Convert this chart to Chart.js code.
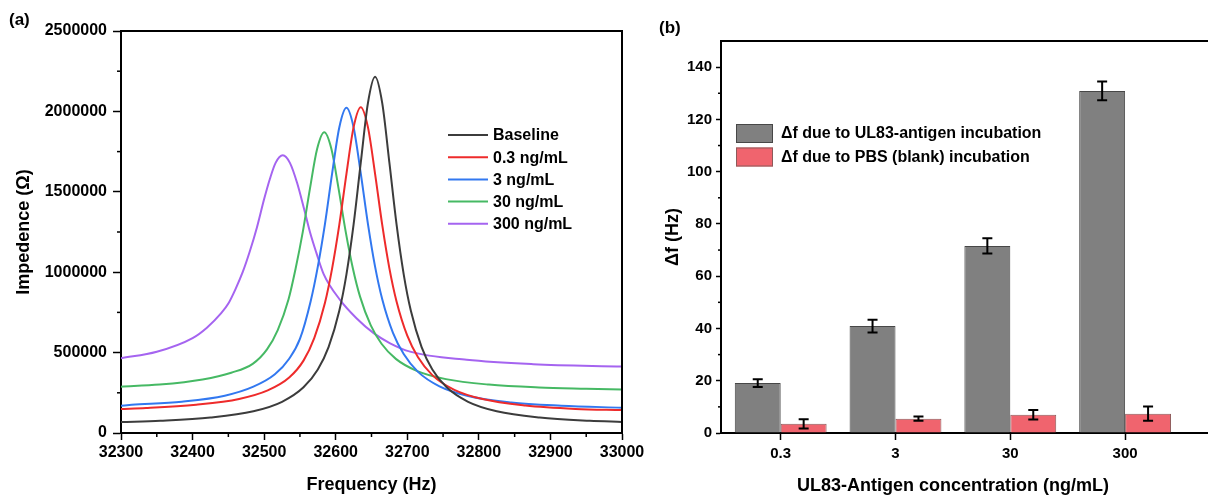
<!DOCTYPE html>
<html><head><meta charset="utf-8">
<script src="https://cdn.jsdelivr.net/npm/chart.js@4"></script>
<style>
html,body{margin:0;padding:0;background:#fff;overflow:hidden;width:1208px;height:496px;}
.panel{position:absolute;top:0;height:496px;}
#pa{left:0;width:650px;}
#pb{left:650px;width:558px;}
.lab{position:absolute;font:bold 17px 'Liberation Sans',Arial,sans-serif;color:#000;}
</style></head><body>
<div class="panel" id="pa"><canvas id="ca" width="650" height="496"></canvas></div>
<div class="panel" id="pb"><canvas id="cb" width="558" height="496"></canvas></div>
<div class="lab" style="left:9px;top:10px">(a)</div>
<div class="lab" style="left:659px;top:18px">(b)</div>
<script>
// ---------- Panel (a) data ----------
const seriesLabels = ['Baseline', '0.3 ng/mL', '3 ng/mL', '30 ng/mL', '300 ng/mL'];
const freqBaseline = [32300, 32355, 32425, 32485, 32525, 32555, 32575, 32590, 32605, 32615, 32625, 32635, 32645, 32655, 32665, 32675, 32685, 32695, 32705, 32720, 32735, 32755, 32785, 32825, 32885, 32955, 33000];
const zBaseline = [68000, 76000, 96000, 135000, 194000, 284000, 395000, 534000, 760000, 987000, 1297000, 1681000, 2051000, 2215000, 2051000, 1681000, 1297000, 987000, 760000, 534000, 395000, 284000, 194000, 135000, 96000, 76000, 69000];
const freq03 = [32300, 32335, 32405, 32465, 32505, 32535, 32555, 32570, 32585, 32595, 32605, 32615, 32625, 32635, 32645, 32655, 32665, 32675, 32685, 32700, 32715, 32735, 32765, 32805, 32865, 32935, 33000];
const z03 = [149000, 155000, 176000, 212000, 265000, 345000, 450000, 590000, 810000, 1024000, 1294000, 1612000, 1902000, 2026000, 1902000, 1612000, 1294000, 1024000, 818000, 605000, 471000, 360000, 270000, 211000, 171000, 150000, 143000];
const freq3 = [32300, 32315, 32385, 32445, 32485, 32515, 32535, 32550, 32565, 32575, 32585, 32595, 32605, 32615, 32625, 32635, 32645, 32655, 32665, 32680, 32695, 32715, 32745, 32785, 32845, 32915, 33000];
const z3 = [170000, 175000, 195000, 232000, 288000, 365000, 462000, 585000, 820000, 1035000, 1301000, 1615000, 1900000, 2022000, 1900000, 1615000, 1301000, 1035000, 832000, 623000, 491000, 380000, 290000, 230000, 190000, 170000, 157000];
const freq30 = [32300, 32354, 32414, 32454, 32484, 32504, 32519, 32534, 32544, 32554, 32564, 32574, 32584, 32594, 32604, 32614, 32624, 32634, 32649, 32664, 32684, 32714, 32754, 32814, 32884, 32950, 33000];
const z30 = [288000, 301000, 333000, 375000, 430000, 520000, 640000, 830000, 1023000, 1251000, 1520000, 1766000, 1870000, 1766000, 1520000, 1251000, 1023000, 848000, 669000, 555000, 461000, 385000, 335000, 301000, 283000, 275000, 270000];
const freq300 = [32300, 32350, 32400, 32420, 32440, 32450, 32460, 32470, 32480, 32490, 32500, 32508, 32516, 32526, 32536, 32546, 32556, 32564, 32573, 32583, 32606, 32629, 32653, 32676, 32704, 32783, 32876, 33000];
const z300 = [465000, 505000, 590000, 655000, 745000, 805000, 895000, 1000000, 1130000, 1280000, 1455000, 1580000, 1680000, 1727000, 1680000, 1556000, 1390000, 1250000, 1120000, 990000, 828000, 714000, 621000, 558000, 506000, 455000, 428000, 413000];
const lineColors = ['#3c3c3c', '#ee2b2b', '#3278f0', '#46b964', '#a564f0'];
const xTicksA = [32300, 32400, 32500, 32600, 32700, 32800, 32900, 33000];
const xMinorA = [32350, 32450, 32550, 32650, 32750, 32850, 32950];
const yTicksA = [0, 500000, 1000000, 1500000, 2000000, 2500000];
const yMinorA = [250000, 750000, 1250000, 1750000, 2250000];

// ---------- Panel (b) data ----------
const concLabels = ['0.3', '3', '30', '300'];
const antigenShift = [19.1, 40.9, 71.6, 130.9];
const antigenErr = [1.5, 2.4, 2.9, 3.6];
const blankShift = [3.5, 5.5, 7.0, 7.4];
const blankErr = [1.8, 0.8, 1.8, 2.7];
const barLabels = ['\u0394f due to UL83-antigen incubation', '\u0394f due to PBS (blank) incubation'];
const yTicksB = [0, 20, 40, 60, 80, 100, 120, 140];
const yMinorB = [10, 30, 50, 70, 90, 110, 130];

const FONT = "'Liberation Sans', Arial, sans-serif";
Chart.defaults.font.family = FONT;
Chart.defaults.color = '#000';

function pts(xs, ys) { return xs.map((x, i) => ({x: x, y: ys[i]})); }

function minorTicks(list) {
  return {
    id: 'minorTicks',
    afterDraw(chart) {
      const ctx = chart.ctx;
      ctx.save();
      ctx.strokeStyle = '#000';
      ctx.lineWidth = 1.5;
      list.forEach(([axis, vals, len]) => {
        const s = chart.scales[axis];
        vals.forEach(v => {
          const p = s.getPixelForValue(v);
          ctx.beginPath();
          if (s.isHorizontal()) { ctx.moveTo(p, s.top); ctx.lineTo(p, s.top + len); }
          else { ctx.moveTo(s.right - len, p); ctx.lineTo(s.right, p); }
          ctx.stroke();
        });
      });
      ctx.restore();
    }
  };
}

// ---------- Chart (a) ----------
const dsA = [[freqBaseline, zBaseline], [freq03, z03], [freq3, z3], [freq30, z30], [freq300, z300]].map((d, i) => ({
  label: seriesLabels[i],
  data: pts(d[0], d[1]),
  borderColor: lineColors[i],
  borderWidth: 2,
  pointRadius: 0,
  cubicInterpolationMode: 'monotone',
  fill: false
}));

const frameA = {
  id: 'frameA',
  afterDraw(chart) {
    const {ctx, chartArea: a} = chart;
    ctx.save();
    ctx.strokeStyle = '#000';
    ctx.lineWidth = 2;
    ctx.beginPath();
    ctx.moveTo(a.left, a.top); ctx.lineTo(a.right, a.top); ctx.lineTo(a.right, a.bottom);
    ctx.stroke();
    ctx.restore();
  }
};

const legendA = {
  id: 'legendA',
  afterDraw(chart) {
    const {ctx, chartArea: a} = chart;
    ctx.save();
    ctx.font = 'bold 16px ' + FONT;
    ctx.textBaseline = 'middle';
    ctx.fillStyle = '#000';
    chart.data.datasets.forEach((ds, i) => {
      const y = a.top + 104 + i * 22.2;
      ctx.strokeStyle = ds.borderColor;
      ctx.lineWidth = 2;
      ctx.beginPath(); ctx.moveTo(a.left + 327, y); ctx.lineTo(a.left + 367, y); ctx.stroke();
      ctx.fillText(ds.label, a.left + 372, y + 1);
    });
    ctx.restore();
  }
};

new Chart(document.getElementById('ca'), {
  type: 'line',
  data: {datasets: dsA},
  options: {
    responsive: false,
    animation: false,
    layout: {padding: {top: 31, right: 28, left: 0, bottom: 0}},
    plugins: {legend: {display: false}, tooltip: {enabled: false}},
    scales: {
      x: {
        type: 'linear', min: 32300, max: 33000,
        afterBuildTicks: s => { s.ticks = xTicksA.map(v => ({value: v})); },
        afterFit: s => { s.height = 63; },
        grid: {display: true, drawOnChartArea: false, drawTicks: true, tickLength: 7, tickColor: '#000', tickWidth: 1.5},
        border: {display: true, color: '#000', width: 2},
        ticks: {color: '#000', font: {size: 16, weight: 'bold'}, padding: 3, maxRotation: 0, autoSkip: false, callback: v => String(v)},
        title: {display: true, text: 'Frequency (Hz)', color: '#000', font: {size: 18, weight: 'bold'}, padding: {top: 0, bottom: 0}}
      },
      y: {
        type: 'linear', min: 0, max: 2500000,
        afterBuildTicks: s => { s.ticks = yTicksA.map(v => ({value: v})); },
        afterFit: s => { s.width = 121; },
        grid: {display: true, drawOnChartArea: false, drawTicks: true, tickLength: 8, tickColor: '#000', tickWidth: 1.5},
        border: {display: true, color: '#000', width: 2},
        ticks: {color: '#000', font: {size: 16, weight: 'bold'}, padding: 6, autoSkip: false, callback: v => String(v)},
        title: {display: true, text: 'Impedence (\u03A9)', color: '#000', font: {size: 18, weight: 'bold'}, padding: {top: 13, bottom: 0}}
      }
    }
  },
  plugins: [frameA, legendA, minorTicks([['x', xMinorA, 4], ['y', yMinorA, 4]])]
});

// ---------- Chart (b) ----------
const errorBars = {
  id: 'errorBars',
  afterDatasetsDraw(chart) {
    const ctx = chart.ctx, ys = chart.scales.y;
    ctx.save();
    ctx.strokeStyle = '#000';
    ctx.lineWidth = 2;
    chart.data.datasets.forEach((ds, di) => {
      const meta = chart.getDatasetMeta(di);
      meta.data.forEach((bar, i) => {
        const v = ds.data[i].y, e = ds.errors[i];
        const yt = ys.getPixelForValue(v + e), yb = ys.getPixelForValue(v - e);
        ctx.beginPath();
        ctx.moveTo(bar.x, yt); ctx.lineTo(bar.x, yb);
        ctx.moveTo(bar.x - 5, yt); ctx.lineTo(bar.x + 5, yt);
        ctx.moveTo(bar.x - 5, yb); ctx.lineTo(bar.x + 5, yb);
        ctx.stroke();
      });
    });
    ctx.restore();
  }
};

const frameB = {
  id: 'frameB',
  afterDraw(chart) {
    const {ctx, chartArea: a} = chart;
    ctx.save();
    ctx.strokeStyle = '#000';
    ctx.lineWidth = 2;
    ctx.beginPath(); ctx.moveTo(a.left, a.top); ctx.lineTo(chart.width, a.top); ctx.stroke();
    // x-axis title, centred on the original panel
    ctx.font = 'bold 18px ' + FONT;
    ctx.textAlign = 'center';
    ctx.textBaseline = 'middle';
    ctx.fillStyle = '#000';
    ctx.fillText('UL83-Antigen concentration (ng/mL)', a.left + 232, 486);
    ctx.restore();
  }
};

const legendB = {
  id: 'legendB',
  afterDraw(chart) {
    const {ctx, chartArea: a} = chart;
    ctx.save();
    ctx.font = 'bold 16px ' + FONT;
    ctx.textBaseline = 'middle';
    chart.data.datasets.forEach((ds, i) => {
      const y = a.top + 83 + i * 23.5;
      ctx.fillStyle = ds.backgroundColor;
      ctx.fillRect(a.left + 15, y, 37, 19);
      ctx.strokeStyle = ds.borderColor;
      ctx.lineWidth = 1;
      ctx.strokeRect(a.left + 15.5, y + 0.5, 36, 18);
      ctx.fillStyle = '#000';
      ctx.fillText(ds.label, a.left + 60, y + 10);
    });
    ctx.restore();
  }
};

new Chart(document.getElementById('cb'), {
  type: 'bar',
  data: {
    datasets: [
      {label: barLabels[0], data: pts(concLabels.map((c, i) => i), antigenShift), errors: antigenErr,
       backgroundColor: '#808080', borderColor: '#474747', borderWidth: 1, categoryPercentage: 0.8, barPercentage: 1.0},
      {label: barLabels[1], data: pts(concLabels.map((c, i) => i), blankShift), errors: blankErr,
       backgroundColor: '#f0646e', borderColor: '#8c5a5a', borderWidth: 1, categoryPercentage: 0.8, barPercentage: 1.0}
    ]
  },
  options: {
    responsive: false,
    animation: false,
    layout: {padding: {top: 41, right: 0, left: 0, bottom: 0}},
    plugins: {legend: {display: false}, tooltip: {enabled: false}},
    scales: {
      x: {
        type: 'linear', min: -0.52, max: 3.722, offset: false,
        afterBuildTicks: s => { s.ticks = concLabels.map((c, i) => ({value: i})); },
        afterFit: s => { s.height = 63; },
        grid: {display: true, offset: false, drawOnChartArea: false, drawTicks: true, tickLength: 7, tickColor: '#000', tickWidth: 1.5},
        border: {display: true, color: '#000', width: 2},
        ticks: {color: '#000', font: {size: 15, weight: 'bold'}, padding: 5, maxRotation: 0, autoSkip: false, callback: v => concLabels[v]},
        title: {display: false}
      },
      y: {
        type: 'linear', min: 0, max: 150,
        afterBuildTicks: s => { s.ticks = yTicksB.map(v => ({value: v})); },
        afterFit: s => { s.width = 71; },
        grid: {display: true, drawOnChartArea: false, drawTicks: true, tickLength: 5, tickColor: '#000', tickWidth: 1.5},
        border: {display: true, color: '#000', width: 2},
        ticks: {color: '#000', font: {size: 15, weight: 'bold'}, padding: 4, autoSkip: false, callback: v => String(v)},
        title: {display: true, text: '\u0394f (Hz)', color: '#000', font: {size: 18, weight: 'bold'}, padding: {top: 12, bottom: 0}}
      }
    }
  },
  plugins: [errorBars, frameB, legendB, minorTicks([['y', yMinorB, 3]])]
});
</script>
</body></html>
